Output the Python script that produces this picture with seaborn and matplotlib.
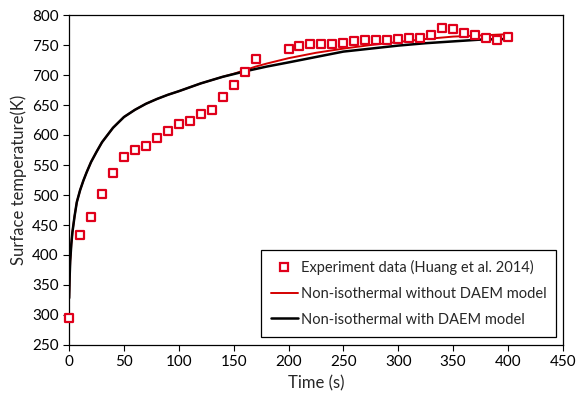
import matplotlib
matplotlib.use("Agg")
import matplotlib.pyplot as plt
import seaborn as sns
import pandas as pd
from matplotlib.lines import Line2D

# Experiment data
exp_t = [0, 10, 20, 30, 40, 50, 60, 70, 80, 90, 100, 110, 120, 130, 140, 150, 160, 170,
         200, 210, 220, 230, 240, 250, 260, 270, 280, 290, 300, 310, 320, 330, 340, 350,
         360, 370, 380, 390, 400]
exp_T = [295, 433, 464, 501, 537, 564, 575, 582, 595, 607, 619, 624, 635, 641, 663, 683, 705, 727,
         744, 748, 751, 752, 752, 754, 756, 758, 758, 758, 760, 761, 762, 767, 779, 776,
         770, 766, 761, 758, 764]

# Non-isothermal with DAEM model (black)
daem_t = [0, 0.5, 1, 2, 3, 5, 7, 10, 13, 16, 20, 25, 30, 40, 50, 60, 70, 80, 90, 100,
          120, 140, 160, 180, 200, 225, 250, 275, 300, 325, 350, 375, 400]
daem_T = [328, 365, 390, 418, 438, 465, 488, 508, 524, 538, 555, 572, 588, 612, 630, 642, 652, 660, 667, 673,
          686, 697, 706, 714, 721, 730, 739, 744, 749, 753, 756, 759, 760]

# Non-isothermal without DAEM model (red)
nodaem_t = [0, 0.5, 1, 2, 3, 5, 7, 10, 13, 16, 20, 25, 30, 40, 50, 60, 70, 80, 90, 100,
            120, 140, 150, 160, 170, 180, 200, 225, 250, 275, 300, 325, 350, 375, 400]
nodaem_T = [328, 365, 390, 418, 438, 465, 488, 508, 524, 538, 555, 572, 588, 612, 630, 642, 652, 660, 667, 673,
            686, 697, 702, 708, 714, 719, 728, 737, 744, 750, 755, 760, 764, 766, 768]

labels = ["Experiment data (Huang et al. 2014)",
          "Non-isothermal without DAEM model",
          "Non-isothermal with DAEM model"]

sns.set_style("white")
plt.rcParams['font.family'] = ['Lato', 'DejaVu Sans']

fig = plt.figure(figsize=(5.76, 4.0), dpi=100)
ax = fig.add_axes([0.12, 0.1375, 0.857, 0.825])

red_line = "#d40000"
red_mk = "#e0001b"

df_black = pd.DataFrame({"t": daem_t, "T": daem_T})
df_red = pd.DataFrame({"t": nodaem_t, "T": nodaem_T})
df_exp = pd.DataFrame({"t": exp_t, "T": exp_T})

sns.lineplot(data=df_red, x="t", y="T", ax=ax, color=red_line, linewidth=1.4,
             estimator=None, sort=False)
sns.lineplot(data=df_black, x="t", y="T", ax=ax, color="black", linewidth=1.8,
             estimator=None, sort=False)
sns.scatterplot(data=df_exp, x="t", y="T", ax=ax, marker="s", s=36,
                facecolor="white", edgecolor=red_mk, linewidth=1.6, zorder=5,
                clip_on=False)

ax.set_xlim(0, 450)
ax.set_ylim(250, 800)
ax.set_xticks(range(0, 451, 50))
ax.set_yticks(range(250, 801, 50))
ax.set_xlabel("Time (s)", fontsize=12, labelpad=4)
ax.set_ylabel("Surface temperature(K)", fontsize=12, labelpad=4)
ax.tick_params(axis="both", direction="out", length=4, width=0.8, labelsize=11,
               bottom=True, left=True, colors="black")
for s in ax.spines.values():
    s.set_visible(True)
    s.set_color("black")
    s.set_linewidth(0.9)

handles = [
    Line2D([], [], linestyle="none", marker="s", markersize=6, markerfacecolor="white",
           markeredgecolor=red_mk, markeredgewidth=1.6),
    Line2D([], [], color=red_line, linewidth=1.4),
    Line2D([], [], color="black", linewidth=1.8),
]
leg = ax.legend(handles, labels, loc="lower right", bbox_to_anchor=(0.987, 0.025),
                fontsize=10.5, frameon=True, fancybox=False, framealpha=1,
                edgecolor="black", borderpad=0.7, labelspacing=0.8, handlelength=1.8,
                handletextpad=0.2, borderaxespad=0)
leg.get_frame().set_linewidth(0.9)

fig.savefig("out.png", dpi=100)
